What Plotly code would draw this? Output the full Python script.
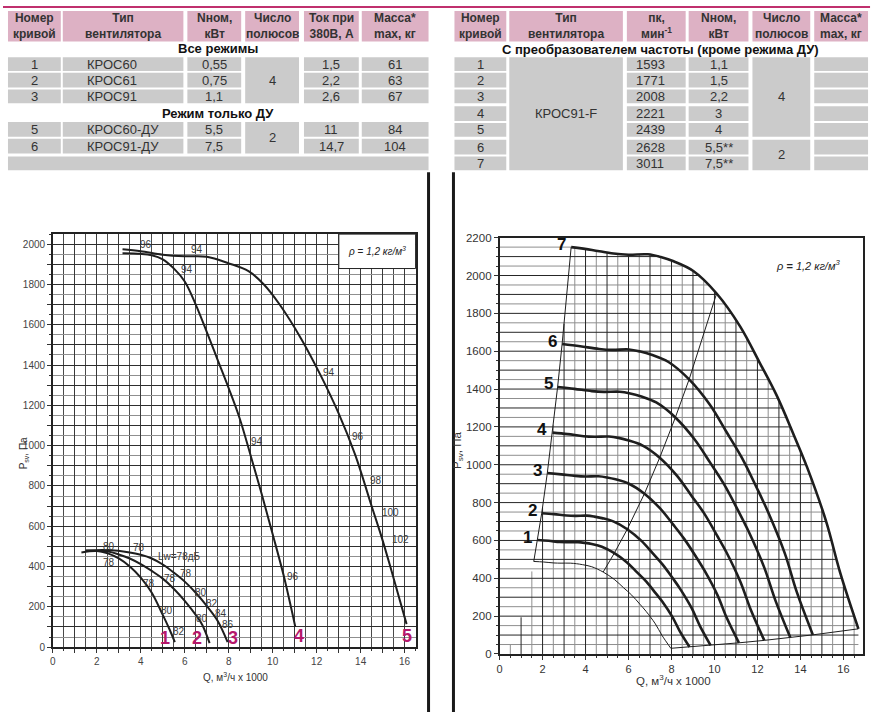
import numpy as np
import plotly.graph_objects as go

W, H = 881, 718
FONT = "Liberation Sans, Arial, sans-serif"
PINK = "#DDB1C4"
GRAY = "#CBCBCB"
MAGENTA = "#B5176B"
INK = "#1e1e1e"

# ---------------- tables ----------------
left_nums = ["1", "2", "3"]
left_types = ["КРОС60", "КРОС61", "КРОС91"]
left_power = ["0,55", "0,75", "1,1"]
left_current = ["1,5", "2,2", "2,6"]
left_mass = ["61", "63", "67"]
du_nums = ["5", "6"]
du_types = ["КРОС60-ДУ", "КРОС91-ДУ"]
du_power = ["5,5", "7,5"]
du_current = ["11", "14,7"]
du_mass = ["84", "104"]
left_header = ["Номер<br>кривой", "Тип<br>вентилятора", "Nном,<br>кВт",
               "Число<br>полюсов", "Ток при<br>380В, А", "Масса*<br>max, кг"]

right_nums = ["1", "2", "3", "4", "5", "6", "7"]
right_type = "КРОС91-F"
right_rpm = ["1593", "1771", "2008", "2221", "2439", "2628", "3011"]
right_power = ["1,1", "1,5", "2,2", "3", "4", "5,5**", "7,5**"]
right_header = ["Номер<br>кривой", "Тип<br>вентилятора", "пк,<br>мин<sup>-1</sup>",
                "Nном,<br>кВт", "Число<br>полюсов", "Масса*<br>max, кг"]

# ---------------- left chart (Q, 1000 m3/h ; Psv, Pa) ----------------
q1 = [1.3, 2.0, 2.5, 3.0, 3.5, 4.0, 4.5, 5.0, 5.3, 5.55]
p1 = [470, 477, 465, 440, 400, 345, 270, 160, 90, 25]
q2 = [1.5, 2.5, 3.0, 3.5, 4.0, 4.5, 5.0, 5.5, 6.0, 6.5, 6.8, 7.13]
p2 = [478, 474, 460, 440, 412, 378, 340, 290, 230, 160, 110, 20]
q3 = [1.5, 2.5, 3.5, 4.0, 4.5, 5.0, 5.5, 6.0, 6.5, 7.0, 7.5, 7.95]
p3 = [480, 482, 470, 458, 440, 410, 370, 325, 270, 205, 130, 25]
q4 = [3.17, 4.0, 4.5, 5.0, 5.5, 6.0, 6.5, 7.0, 7.5, 8.0, 8.5, 9.0, 9.5, 10.0, 10.5, 11.03]
p4 = [1955, 1952, 1945, 1925, 1880, 1815, 1700, 1565, 1425, 1285, 1135, 950, 760, 560, 355, 100]
q5 = [3.17, 4.0, 5.0, 6.0, 7.0, 8.0, 8.9, 9.6, 10.3, 11.3, 12.2, 13.0, 13.75, 14.5, 15.0, 15.4, 16.09]
p5 = [1975, 1965, 1948, 1940, 1938, 1905, 1866, 1800, 1703, 1530, 1345, 1160, 955, 700, 530, 380, 114]

lw_text = ["96", "94", "94", "94", "94", "96", "98", "100", "102", "96", "80", "78", "78",
           "Lw=78дБ", "78", "78", "78", "80", "82", "84", "86", "80", "80", "82"]
lw_q = [4.23, 6.54, 6.09, 12.54, 9.29, 13.9, 14.7, 15.38, 15.8, 10.93, 2.54, 3.93, 2.54,
        5.77, 5.32, 6.07, 4.38, 6.75, 7.25, 7.65, 7.95, 5.21, 6.8, 5.74]
lw_p = [2000, 1975, 1874, 1364, 1022, 1043, 826, 668, 533, 350, 500, 494, 419,
        448, 342, 364, 318, 272, 215, 166, 114, 183, 144, 78]

left_curve_names = ["1", "2", "3", "4", "5"]
left_name_q = [5.09, 6.57, 8.2, 11.18, 16.12]
left_name_p = [44, 44, 44, 57, 57]

# ---------------- right chart: КРОС91-F at 7 speeds ----------------
# q0/p0 is the thin lower limit curve
q0 = [1.59, 2.05, 2.53, 2.86, 3.29, 3.58, 3.86, 4.29, 4.82, 5.34, 5.77, 6.15, 6.53, 6.82, 7.25, 7.56, 7.97]
p0 = [489, 486, 481, 480, 480, 477, 472, 461, 433, 394, 350, 311, 263, 225, 159, 98, 30]
r1_q = [1.76, 2.28, 2.80, 3.17, 3.65, 3.97, 4.29, 4.76, 5.34, 5.93, 6.40, 6.83, 7.25, 7.57, 8.04, 8.39, 8.84]
r1_p = [602, 598, 592, 591, 591, 587, 581, 567, 533, 484, 431, 382, 323, 277, 196, 120, 37]
r2_q = [1.96, 2.53, 3.12, 3.53, 4.06, 4.41, 4.76, 5.29, 5.94, 6.59, 7.12, 7.59, 8.06, 8.41, 8.94, 9.32, 9.82]
r2_p = [744, 739, 732, 730, 731, 726, 718, 701, 659, 599, 533, 472, 400, 343, 242, 149, 46]
r3_q = [2.22, 2.87, 3.53, 4.00, 4.60, 5.00, 5.40, 6.00, 6.74, 7.47, 8.07, 8.60, 9.14, 9.54, 10.14, 10.57, 11.14]
r3_p = [956, 949, 941, 938, 939, 933, 923, 901, 847, 769, 685, 607, 514, 440, 311, 191, 59]
r4_q = [2.46, 3.17, 3.91, 4.43, 5.09, 5.53, 5.97, 6.64, 7.45, 8.26, 8.92, 9.52, 10.11, 10.55, 11.21, 11.69, 12.32]
r4_p = [1170, 1162, 1151, 1148, 1149, 1142, 1129, 1102, 1037, 941, 838, 743, 628, 539, 381, 234, 72]
r5_q = [2.70, 3.48, 4.29, 4.86, 5.59, 6.08, 6.56, 7.29, 8.18, 9.07, 9.80, 10.45, 11.10, 11.58, 12.31, 12.84, 13.53]
r5_p = [1411, 1401, 1389, 1385, 1386, 1377, 1362, 1329, 1250, 1135, 1011, 896, 758, 650, 459, 282, 87]
r6_q = [2.91, 3.75, 4.63, 5.24, 6.02, 6.55, 7.07, 7.86, 8.82, 9.78, 10.56, 11.26, 11.96, 12.48, 13.27, 13.83, 14.58]
r6_p = [1638, 1626, 1612, 1607, 1609, 1598, 1581, 1543, 1451, 1318, 1173, 1040, 880, 754, 533, 328, 101]
r7_q = [3.33, 4.3, 5.3, 6.0, 6.9, 7.5, 8.1, 9.0, 10.1, 11.2, 12.1, 12.9, 13.7, 14.3, 15.2, 15.85, 16.7]
r7_p = [2150, 2135, 2116, 2110, 2112, 2098, 2075, 2025, 1905, 1730, 1540, 1365, 1155, 990, 700, 430, 133]
right_curve_names = ["1", "2", "3", "4", "5", "6", "7"]


def px(x):
    return x / W


def py(y):
    return 1 - y / H


def add_cell(shapes, x0, x1, y0, y1, color):
    shapes.append(dict(type="rect", xref="paper", yref="paper", x0=px(x0), x1=px(x1),
                       y0=py(y1), y1=py(y0), fillcolor=color, line_width=0, layer="below"))


def add_text(anns, s, x, y, size=13, bold=False, xanchor="center", color="#333333"):
    anns.append(dict(xref="paper", yref="paper", x=px(x), y=py(y),
                     text=f"<b>{s}</b>" if bold else s, showarrow=False,
                     xanchor=xanchor, yanchor="middle",
                     font=dict(size=size, color=color, family=FONT)))


def build_tables(shapes, anns):
    # top magenta rule and the two black separators
    shapes.append(dict(type="rect", xref="paper", yref="paper", x0=0, x1=px(870),
                       y0=py(2), y1=1, fillcolor="#C0306E", line_width=0))
    for x in (427, 452):
        shapes.append(dict(type="line", xref="paper", yref="paper", x0=px(x), x1=px(x),
                           y0=0, y1=py(169), line=dict(color="#1a1a1a", width=3)))

    # left table
    cols = [(5, 58), (60, 181), (185, 239), (243, 297), (302, 357), (360, 427)]
    for (a, b), h in zip(cols, left_header):
        add_cell(shapes, a, b, 5, 36, PINK)
        add_text(anns, h, (a + b) / 2, 20.5, size=12, bold=True)
    add_text(anns, "Все режимы", 216, 43.5, size=13, bold=True, color="#111")
    add_text(anns, "Режим только ДУ", 216, 109, size=13, bold=True, color="#111")

    def rows_block(rows, nums, types, power, current, mass, poles):
        for (t, b), n, ty, pw, cu, m in zip(rows, nums, types, power, current, mass):
            for i, (a, c) in enumerate(cols):
                if i != 3:
                    add_cell(shapes, a, c, t, b, GRAY)
            mid = (t + b) / 2
            add_text(anns, n, sum(cols[0]) / 2, mid)
            add_text(anns, ty, 82, mid, xanchor="left")
            add_text(anns, pw, sum(cols[2]) / 2, mid)
            add_text(anns, cu, sum(cols[4]) / 2, mid)
            add_text(anns, m, sum(cols[5]) / 2, mid)
        add_cell(shapes, cols[3][0], cols[3][1], rows[0][0], rows[-1][1], GRAY)
        add_text(anns, poles, sum(cols[3]) / 2, (rows[0][0] + rows[-1][1]) / 2)

    rows_block([(52, 66), (68, 83), (85, 99)], left_nums, left_types, left_power,
               left_current, left_mass, "4")
    rows_block([(118, 133), (135, 150)], du_nums, du_types, du_power, du_current, du_mass, "2")
    add_cell(shapes, 5, 427, 153, 167, GRAY)

    # right table
    cols = [(453, 505), (508, 622), (626, 685), (688, 748), (752, 810), (814, 868)]
    rows = [(52, 66), (68, 83), (85, 99), (102, 117), (119, 133), (136, 151), (153, 167)]
    for (a, b), h in zip(cols, right_header):
        add_cell(shapes, a, b, 5, 36, PINK)
        add_text(anns, h, (a + b) / 2, 20.5, size=12, bold=True)
    add_text(anns, "С преобразователем частоты (кроме режима ДУ)", 660, 44, size=13,
             bold=True, color="#111")
    for (t, b), n, rpm, pw in zip(rows, right_nums, right_rpm, right_power):
        for i in (0, 2, 3, 5):
            add_cell(shapes, cols[i][0], cols[i][1], t, b, GRAY)
        mid = (t + b) / 2
        add_text(anns, n, sum(cols[0]) / 2, mid)
        add_text(anns, rpm, 633, mid, xanchor="left")
        add_text(anns, pw, sum(cols[3]) / 2, mid)
    add_cell(shapes, cols[1][0], cols[1][1], rows[0][0], rows[-1][1], GRAY)
    add_text(anns, right_type, sum(cols[1]) / 2, (rows[0][0] + rows[-1][1]) / 2)
    add_cell(shapes, cols[4][0], cols[4][1], rows[0][0], rows[4][1], GRAY)
    add_text(anns, "4", sum(cols[4]) / 2, (rows[0][0] + rows[4][1]) / 2)
    add_cell(shapes, cols[4][0], cols[4][1], rows[5][0], rows[6][1], GRAY)
    add_text(anns, "2", sum(cols[4]) / 2, (rows[5][0] + rows[6][1]) / 2)


def clipped_grid():
    """Grid of the right chart, only inside the working envelope (curve 7)."""
    xs = np.linspace(r7_q[0], r7_q[-1], 4000)
    ys = np.interp(xs, r7_q, r7_p)
    k = r7_p[0] / r7_q[0] ** 2
    lines = {"dark": ([], []), "gray": ([], [])}
    for gx in np.arange(0.5, r7_q[-1], 0.5):
        top = k * gx ** 2 if gx < r7_q[0] else np.interp(gx, r7_q, r7_p)
        key = "dark" if gx % 1 == 0 else "gray"
        lines[key][0].extend([gx, gx, None])
        lines[key][1].extend([0, top, None])
    for gy in range(50, 2200, 50):
        m = ys >= gy
        right = xs[m].max() if m.any() else r7_q[-1]
        key = "dark" if gy % 100 == 0 else "gray"
        lines[key][0].extend([0, right, None])
        lines[key][1].extend([gy, gy, None])
    return lines


def main():
    shapes, anns = [], []
    build_tables(shapes, anns)
    fig = go.Figure()

    # ---- left chart curves
    for q, p in [(q1, p1), (q2, p2), (q3, p3), (q4, p4), (q5, p5)]:
        fig.add_trace(go.Scatter(x=q, y=p, mode="lines", line=dict(color=INK, width=2, shape="spline"),
                                 xaxis="x", yaxis="y", hoverinfo="skip"))
    for s, q, p in zip(lw_text, lw_q, lw_p):
        anns.append(dict(xref="x", yref="y", x=q, y=p, text=s, showarrow=False,
                         font=dict(size=10, color="#3a3a3a", family=FONT)))
    for s, q, p in zip(left_curve_names, left_name_q, left_name_p):
        anns.append(dict(xref="x", yref="y", x=q, y=p, text=f"<b>{s}</b>", showarrow=False,
                         font=dict(size=18, color=MAGENTA, family=FONT)))

    # ---- right chart grid, curves and limits
    grid = clipped_grid()
    for key, col in (("gray", "#8f8f8f"), ("dark", "#262626")):
        fig.add_trace(go.Scatter(x=grid[key][0], y=grid[key][1], mode="lines",
                                 line=dict(color=col, width=1), xaxis="x2", yaxis="y2",
                                 hoverinfo="skip"))
    right = [(q0, p0), (r1_q, r1_p), (r2_q, r2_p), (r3_q, r3_p), (r4_q, r4_p),
             (r5_q, r5_p), (r6_q, r6_p), (r7_q, r7_p)]
    starts_q = [c[0][0] for c in right]
    starts_p = [c[1][0] for c in right]
    ends_q = [c[0][-1] for c in right]
    ends_p = [c[1][-1] for c in right]
    mid_q = [c[0][8] for c in right]
    mid_p = [c[1][8] for c in right]
    for q, p in [(starts_q, starts_p), (ends_q, ends_p), (mid_q, mid_p)]:
        fig.add_trace(go.Scatter(x=q, y=p, mode="lines", line=dict(color=INK, width=1),
                                 xaxis="x2", yaxis="y2", hoverinfo="skip"))
    for i, (q, p) in enumerate(right):
        fig.add_trace(go.Scatter(x=q, y=p, mode="lines",
                                 line=dict(color=INK, width=1 if i == 0 else 2.6, shape="spline"),
                                 xaxis="x2", yaxis="y2", hoverinfo="skip"))
    for s, (q, p) in zip(right_curve_names, right[1:]):
        anns.append(dict(xref="x2", yref="y2", x=q[0], y=p[0], text=f"<b>{s}</b>", showarrow=False,
                         xanchor="right", yanchor="middle", xshift=-3, yshift=3,
                         font=dict(size=17, color="#111", family=FONT)))

    # ---- density notes and axis titles
    shapes.append(dict(type="rect", xref="paper", yref="paper", x0=px(337), x1=px(414),
                       y0=py(267), y1=py(232), fillcolor="white", line=dict(color="#222", width=1)))
    add_text(anns, "<i>ρ</i> = <i>1,2 кг/м<sup>3</sup></i>", 375.5, 249.5, size=10, color="#222")
    add_text(anns, "<i>ρ</i> <b>=</b> <i>1,2 кг/м<sup>3</sup></i>", 808, 263, size=11, color="#222")
    add_text(anns, "Q, м<sup>3</sup>/ч x 1000", 233, 682, size=10, color="#333")
    add_text(anns, "Q, м<sup>3</sup>/ч x 1000", 673, 685, size=11.5, color="#333")
    for x, y, size in ((13, 455, 10), (457, 452, 11.5)):
        anns.append(dict(xref="paper", yref="paper", x=px(x), y=py(y), text="P<sub>sv</sub>, Па",
                         textangle=-90, showarrow=False, font=dict(size=size, color="#333", family=FONT)))

    axis_common = dict(showline=True, linecolor="#222", linewidth=1.5, mirror=True, zeroline=False,
                       ticks="outside", ticklen=4, tickcolor="#333")
    fig.update_layout(
        width=W, height=H, margin=dict(l=0, r=0, t=0, b=0),
        paper_bgcolor="white", plot_bgcolor="white", showlegend=False,
        shapes=shapes, annotations=anns,
        xaxis=dict(domain=[px(50), px(414)], range=[0, 16.5], anchor="y", tick0=0, dtick=1,
                   ticklabelstep=2, showgrid=True, gridcolor="#3a3a3a", gridwidth=1,
                   minor=dict(dtick=0.5, showgrid=True, gridcolor="#4a4a4a", ticks="outside", ticklen=2),
                   tickfont=dict(size=10, color="#444", family=FONT), **axis_common),
        yaxis=dict(domain=[py(652), py(232)], range=[0, 2050], anchor="x", tick0=0, dtick=100,
                   ticklabelstep=2, showgrid=True, gridcolor="#2e2e2e", gridwidth=1,
                   minor=dict(dtick=50, showgrid=True, gridcolor="#8f8f8f", ticks="outside", ticklen=2),
                   tickfont=dict(size=10, color="#444", family=FONT), **axis_common),
        xaxis2=dict(domain=[px(498.3), px(863.3)], range=[0, 16.93], anchor="y2", tick0=0, dtick=2,
                    showgrid=False, minor=dict(dtick=0.5, ticks="outside", ticklen=2),
                    tickfont=dict(size=11, color="#333", family=FONT), **axis_common),
        yaxis2=dict(domain=[py(659), py(235.6)], range=[0, 2200], anchor="x2", tick0=0, dtick=200,
                    showgrid=False, minor=dict(dtick=50, ticks="outside", ticklen=2),
                    tickfont=dict(size=11.5, color="#333", family=FONT), **axis_common),
    )
    fig.write_html("out.html", config={"displayModeBar": False},
                   post_script="document.body.style.margin='0';")


if __name__ == "__main__":
    main()
